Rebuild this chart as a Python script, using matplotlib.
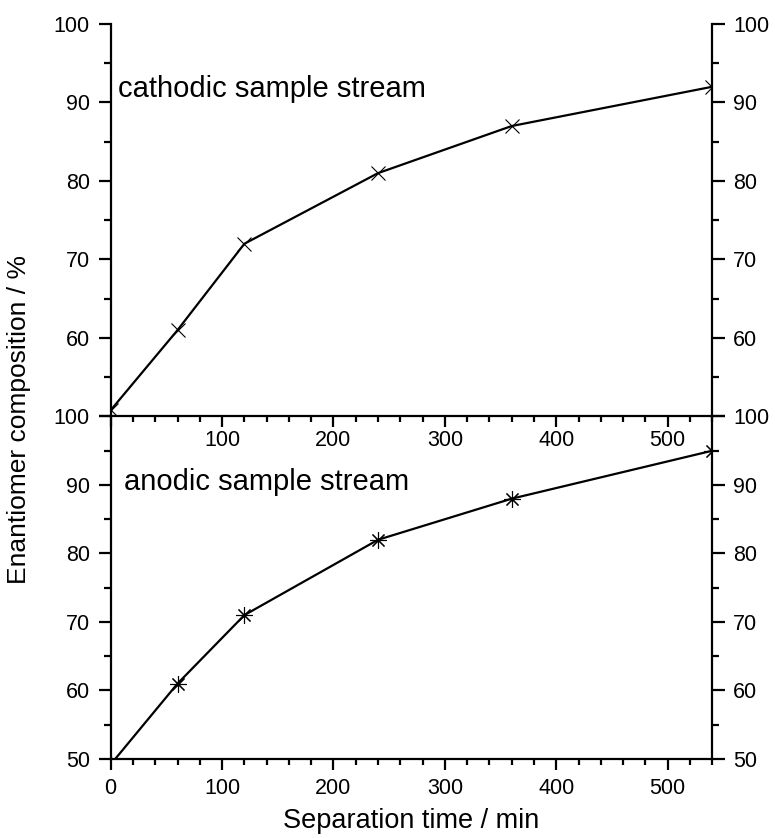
import matplotlib.pyplot as plt
from matplotlib.ticker import MultipleLocator, FuncFormatter

plt.rcParams['font.family'] = ['Liberation Sans', 'DejaVu Sans']

# Separation time (min)
time_min = [0, 60, 120, 240, 360, 540]
# Enantiomer composition (%)
cathodic = [50.8, 61, 72, 81, 87, 92]
anodic = [49.2, 61, 71, 82, 88, 95]

fig = plt.figure(figsize=(7.75, 8.38), dpi=100)
left, right = 0.1428, 0.919
ax_top = fig.add_axes([left, 0.503, right - left, 0.9714 - 0.503])
ax_bot = fig.add_axes([left, 0.0943, right - left, 0.503 - 0.0943])
ax_bot.patch.set_visible(False)

ax_top.plot(time_min, cathodic, color='black', lw=1.6, marker='x',
            ms=10, mew=0.8, zorder=3)
ax_bot.plot(time_min, anodic, color='black', lw=1.6, marker=(8, 2, 0),
            ms=12, mew=0.8, zorder=3)

for ax in (ax_top, ax_bot):
    ax.set_xlim(0, 540)
    ax.set_ylim(50, 100)
    ax.xaxis.set_major_locator(MultipleLocator(100))
    ax.xaxis.set_minor_locator(MultipleLocator(20))
    ax.yaxis.set_major_locator(MultipleLocator(10))
    ax.yaxis.set_minor_locator(MultipleLocator(5))
    ax.spines['top'].set_visible(False)
    for s in ('left', 'right', 'bottom'):
        ax.spines[s].set_linewidth(1.6)
    ax.tick_params(which='both', direction='out', width=1.6, labelsize=15.5,
                   left=True, right=True, labelleft=True, labelright=True,
                   top=False, bottom=True)
    ax.tick_params(axis='y', which='major', length=9, pad=6)
    ax.tick_params(axis='y', which='minor', length=5)
    ax.tick_params(axis='x', which='major', length=8, pad=6)
    ax.tick_params(axis='x', which='minor', length=4)

# top panel: hide the 50 label on y and the 0 label on x
ax_top.yaxis.set_major_formatter(FuncFormatter(lambda v, p: '' if v <= 50 else f'{v:.0f}'))
ax_top.xaxis.set_major_formatter(FuncFormatter(lambda v, p: '' if v <= 0 else f'{v:.0f}'))
ax_top.tick_params(axis='x', pad=2)

ax_top.text(0.012, 0.814, 'cathodic sample stream', transform=ax_top.transAxes,
            fontsize=21, va='baseline', ha='left')
ax_bot.text(0.022, 0.785, 'anodic sample stream', transform=ax_bot.transAxes,
            fontsize=21, va='baseline', ha='left')

ax_bot.set_xlabel('Separation time / min', fontsize=19.5, labelpad=6)
fig.text(0.024, 0.5, 'Enantiomer composition / %', rotation=90,
         fontsize=19, ha='center', va='center')

fig.savefig('out.png', dpi=100)
